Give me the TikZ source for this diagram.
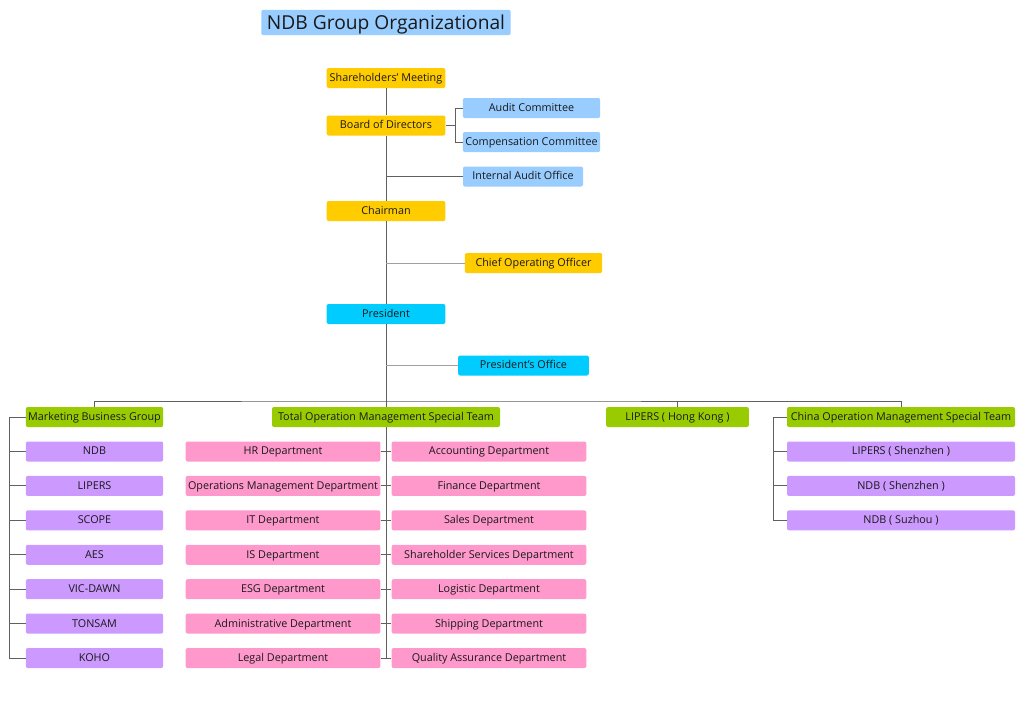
\documentclass[tikz,border=0pt]{standalone}
\usepackage{fontspec}
\setmainfont{Open Sans}
\definecolor{execgold}{HTML}{FFCC00}
\definecolor{paleblue}{HTML}{99CCFF}
\definecolor{skycyan}{HTML}{00CCFF}
\definecolor{leafgreen}{HTML}{99CC00}
\definecolor{lilac}{HTML}{CC99FF}
\definecolor{rose}{HTML}{FF99CC}
\definecolor{wire}{HTML}{606060}
\definecolor{softwire}{HTML}{A0A0A0}
\tikzset{
  unit/.style={rounded corners=1.5pt, inner sep=0pt, minimum height=15pt, text=black!90,
    text height=6.2pt, text depth=1pt, font=\fontsize{8.1}{9}\selectfont},
  exec/.style={unit, fill=execgold, minimum width=89pt},
  committee/.style={unit, fill=paleblue},
  pres/.style={unit, fill=skycyan, minimum width=89pt},
  group/.style={unit, fill=leafgreen},
  brand/.style={unit, fill=lilac, minimum width=103pt},
  dept/.style={unit, fill=rose, minimum width=146pt},
  sub/.style={unit, fill=lilac, minimum width=171pt},
  link/.style={draw=wire, line width=0.75pt},
  softlink/.style={draw=softwire, line width=0.75pt}
}

\begin{document}
\begin{tikzpicture}[x=0.75pt, y=-0.75pt]
  \fill[white] (0,0) rectangle (1024,711);
  \useasboundingbox (0,0) rectangle (1024,711);
  \node[unit, fill=paleblue, minimum width=187pt, minimum height=19pt, text height=11pt,
    text depth=1pt, font=\fontsize{14.4}{17}\selectfont] (title) at (386,22.5) {NDB Group Organizational};

  % top of the chain
  \node[exec] (sm) at (386,78) {Shareholders' Meeting};
  \node[exec] (bod) at (386,125.5) {Board of Directors};
  \node[exec] (chair) at (386,211) {Chairman};
  \node[pres] (pres) at (386,314) {President};
  \node[committee, minimum width=103pt] (audit) at (531.5,108) {Audit Committee};
  \node[committee, minimum width=103pt] (comp) at (531.5,142) {Compensation Committee};
  \node[committee, minimum width=90pt] (iao) at (523,176.5) {Internal Audit Office};
  \node[exec, minimum width=103pt] (coo) at (533.5,263) {Chief Operating Officer};
  \node[pres, minimum width=98pt] (po) at (523.5,365.5) {President's Office};

  % second level
  \node[group, minimum width=103pt] (mbg) at (94.5,417) {Marketing Business Group};
  \node[group, minimum width=171pt] (tom) at (386,417) {Total Operation Management Special Team};
  \node[group, minimum width=107pt] (hk) at (677.5,417) {LIPERS ( Hong Kong )};
  \node[group, minimum width=171pt] (com) at (901,417) {China Operation Management Special Team};

  \foreach \txt [count=\i] in {NDB, LIPERS, SCOPE, AES, VIC-DAWN, TONSAM, KOHO}
    \node[brand] (m\i) at (94.5,{451.5+34.42*(\i-1)}) {\txt};
  \foreach \txt [count=\i] in {HR Department, Operations Management Department, IT Department,
      IS Department, ESG Department, Administrative Department, Legal Department}
    \node[dept] (l\i) at (283,{451.5+34.42*(\i-1)}) {\txt};
  \foreach \txt [count=\i] in {Accounting Department, Finance Department, Sales Department,
      Shareholder Services Department, Logistic Department, Shipping Department,
      Quality Assurance Department}
    \node[dept] (r\i) at (489,{451.5+34.42*(\i-1)}) {\txt};
  \foreach \txt [count=\i] in {LIPERS ( Shenzhen ), NDB ( Shenzhen ), NDB ( Suzhou )}
    \node[sub] (c\i) at (901,{451.5+34.42*(\i-1)}) {\txt};

  % connectors
  \coordinate (split) at (455,125.5);
  \coordinate (bus) at (386,401);
  \coordinate (mspine) at (9,417);
  \coordinate (cspine) at (773,417);
  \draw[link] (sm) -- (bod) -- (chair) -- (pres) -- (tom);
  \draw[link] (bod.east) -- (split);
  \draw[link] (audit.west) -- (audit.west -| split) -- (comp.west -| split) -- (comp.west);
  \draw[link] (bod |- iao) -- (iao.west);
  \draw[softlink] (chair |- coo) -- (coo.west);
  \draw[softlink] (pres |- po) -- (po.west);
  \draw[link] (mbg.north) |- (bus) -| (com.north);
  \draw[link] (hk.north) -- (hk.north |- bus);
  \draw[link] (mbg.west) -- (mspine) -- (mspine |- m7) -- (m7.west);
  \foreach \i in {1,...,6}
    \draw[link] (mspine |- m\i) -- (m\i.west);
  \draw[link] (tom.south) -- (tom.south |- l7);
  \foreach \i in {1,...,7}
    \draw[link] (l\i.east) -- (r\i.west);
  \draw[link] (com.west) -- (cspine) -- (cspine |- c3) -- (c3.west);
  \foreach \i in {1,2}
    \draw[link] (cspine |- c\i) -- (c\i.west);
\end{tikzpicture}
\end{document}
